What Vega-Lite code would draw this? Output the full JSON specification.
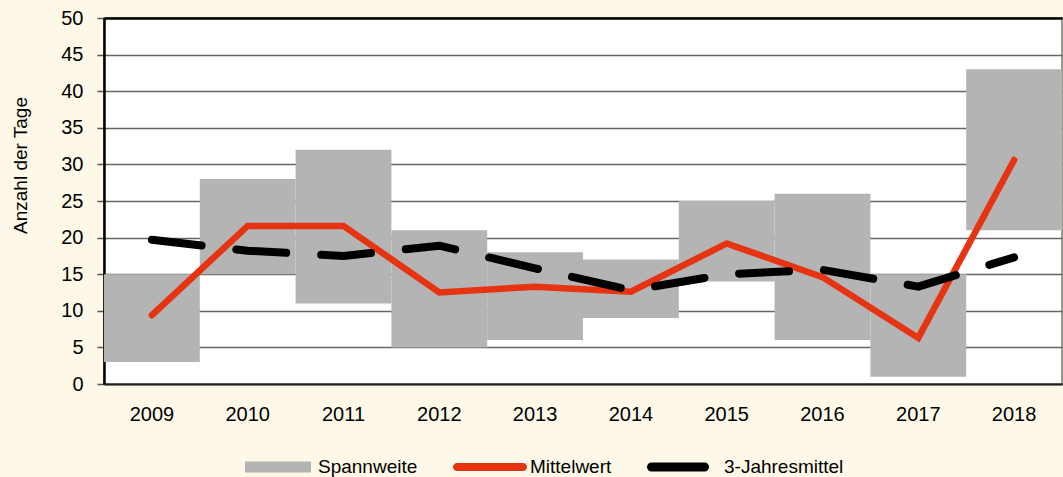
{
  "$schema": "https://vega.github.io/schema/vega-lite/v6.json",
  "width": 958,
  "height": 366,
  "autosize": {"type": "none"},
  "padding": {"left": 104, "top": 18, "right": 1, "bottom": 93},
  "background": "#fdf8e8",
  "config": {
    "view": {"fill": "white", "stroke": "#777777", "strokeWidth": 1.5},
    "font": "Liberation Sans"
  },
  "data": {
    "values": [
      {"year": "2009", "lo": 3, "hi": 15, "mean": 9.4, "avg3": 19.7},
      {"year": "2010", "lo": 15, "hi": 28, "mean": 21.6, "avg3": 18.2},
      {"year": "2011", "lo": 11, "hi": 32, "mean": 21.6, "avg3": 17.5},
      {"year": "2012", "lo": 5, "hi": 21, "mean": 12.5, "avg3": 18.9},
      {"year": "2013", "lo": 6, "hi": 18, "mean": 13.3, "avg3": 15.8},
      {"year": "2014", "lo": 9, "hi": 17, "mean": 12.6, "avg3": 12.8},
      {"year": "2015", "lo": 14, "hi": 25, "mean": 19.2, "avg3": 15.0},
      {"year": "2016", "lo": 6, "hi": 26, "mean": 14.6, "avg3": 15.6},
      {"year": "2017", "lo": 1, "hi": 15, "mean": 6.3, "avg3": 13.3},
      {"year": "2018", "lo": 21, "hi": 43, "mean": 30.6, "avg3": 17.3}
    ]
  },
  "encoding": {
    "x": {
      "field": "year",
      "type": "ordinal",
      "scale": {"paddingInner": 0, "paddingOuter": 0},
      "axis": {
        "title": null,
        "labelAngle": 0,
        "labelFont": "Liberation Sans",
        "labelFontSize": 20,
        "labelColor": "black",
        "labelPadding": 20,
        "ticks": false,
        "tickSize": 0,
        "domainColor": "#222222",
        "domainWidth": 2
      }
    }
  },
  "layer": [
    {
      "mark": {"type": "bar"},
      "encoding": {
        "y": {
          "field": "lo",
          "type": "quantitative",
          "scale": {"domain": [0, 50], "nice": false},
          "axis": {
            "tickCount": 10,
            "tickMinStep": 5,
            "labelOverlap": false,
            "title": "Anzahl der Tage",
            "titleFontSize": 19,
            "titleFontWeight": "normal",
            "titleColor": "black",
            "titleAngle": -90,
            "titleAlign": "center",
            "titleBaseline": "alphabetic",
            "titleX": -78,
            "titleY": 147,
            "labelFontSize": 20,
            "labelColor": "black",
            "labelPadding": 14,
            "tickSize": 7,
            "tickColor": "#555555",
            "tickWidth": 1.5,
            "domainColor": "black",
            "domainWidth": 2.5,
            "grid": true,
            "gridColor": {"condition": {"test": "datum.value === 50", "value": "black"}, "value": "#666666"},
            "gridWidth": {"condition": {"test": "datum.value === 50", "value": 2.5}, "value": 1.5}
          }
        },
        "y2": {"field": "hi"},
        "color": {
          "datum": "Spannweite",
          "type": "nominal",
          "scale": {
            "domain": ["Spannweite", "Mittelwert", "3-Jahresmittel"],
            "range": ["#b4b4b4", "#e63312", "#000000"]
          },
          "legend": {
            "orient": "none",
            "legendX": 137,
            "legendY": 412,
            "direction": "horizontal",
            "title": null,
            "padding": 0,
            "symbolSize": 5476,
            "symbolStrokeWidth": 0,
            "labelFont": "Liberation Sans",
            "labelFontSize": 19,
            "labelColor": "black",
            "labelOffset": 3,
            "columnPadding": 35,
            "encode": {
              "symbols": {
                "update": {
                  "shape": {"signal": "datum.value === 'Spannweite' ? 'M-0.892,-0.149H0.892V0.149H-0.892Z' : datum.value === 'Mittelwert' ? 'M-0.892,-0.108H0.892A0.108,0.108 0 0 1 0.892,0.108H-0.892A0.108,0.108 0 0 1 -0.892,-0.108Z' : 'M-0.878,-0.122H0.554A0.122,0.122 0 0 1 0.554,0.122H-0.878A0.122,0.122 0 0 1 -0.878,-0.122Z'"},
                  "fill": {"scale": "color", "field": "value"},
                  "stroke": {"value": "transparent"},
                  "strokeWidth": {"value": 0},
                  "opacity": {"value": 1}
                }
              }
            }
          }
        }
      }
    },
    {
      "mark": {"type": "line", "strokeWidth": 6.5, "strokeJoin": "miter", "strokeCap": "round"},
      "encoding": {
        "y": {"field": "mean", "type": "quantitative"},
        "color": {"datum": "Mittelwert", "type": "nominal"}
      }
    },
    {
      "mark": {"type": "line", "strokeWidth": 8, "strokeCap": "round", "strokeJoin": "round", "strokeDash": [50, 35]},
      "encoding": {
        "y": {"field": "avg3", "type": "quantitative"},
        "color": {"datum": "3-Jahresmittel", "type": "nominal"}
      }
    }
  ]
}
